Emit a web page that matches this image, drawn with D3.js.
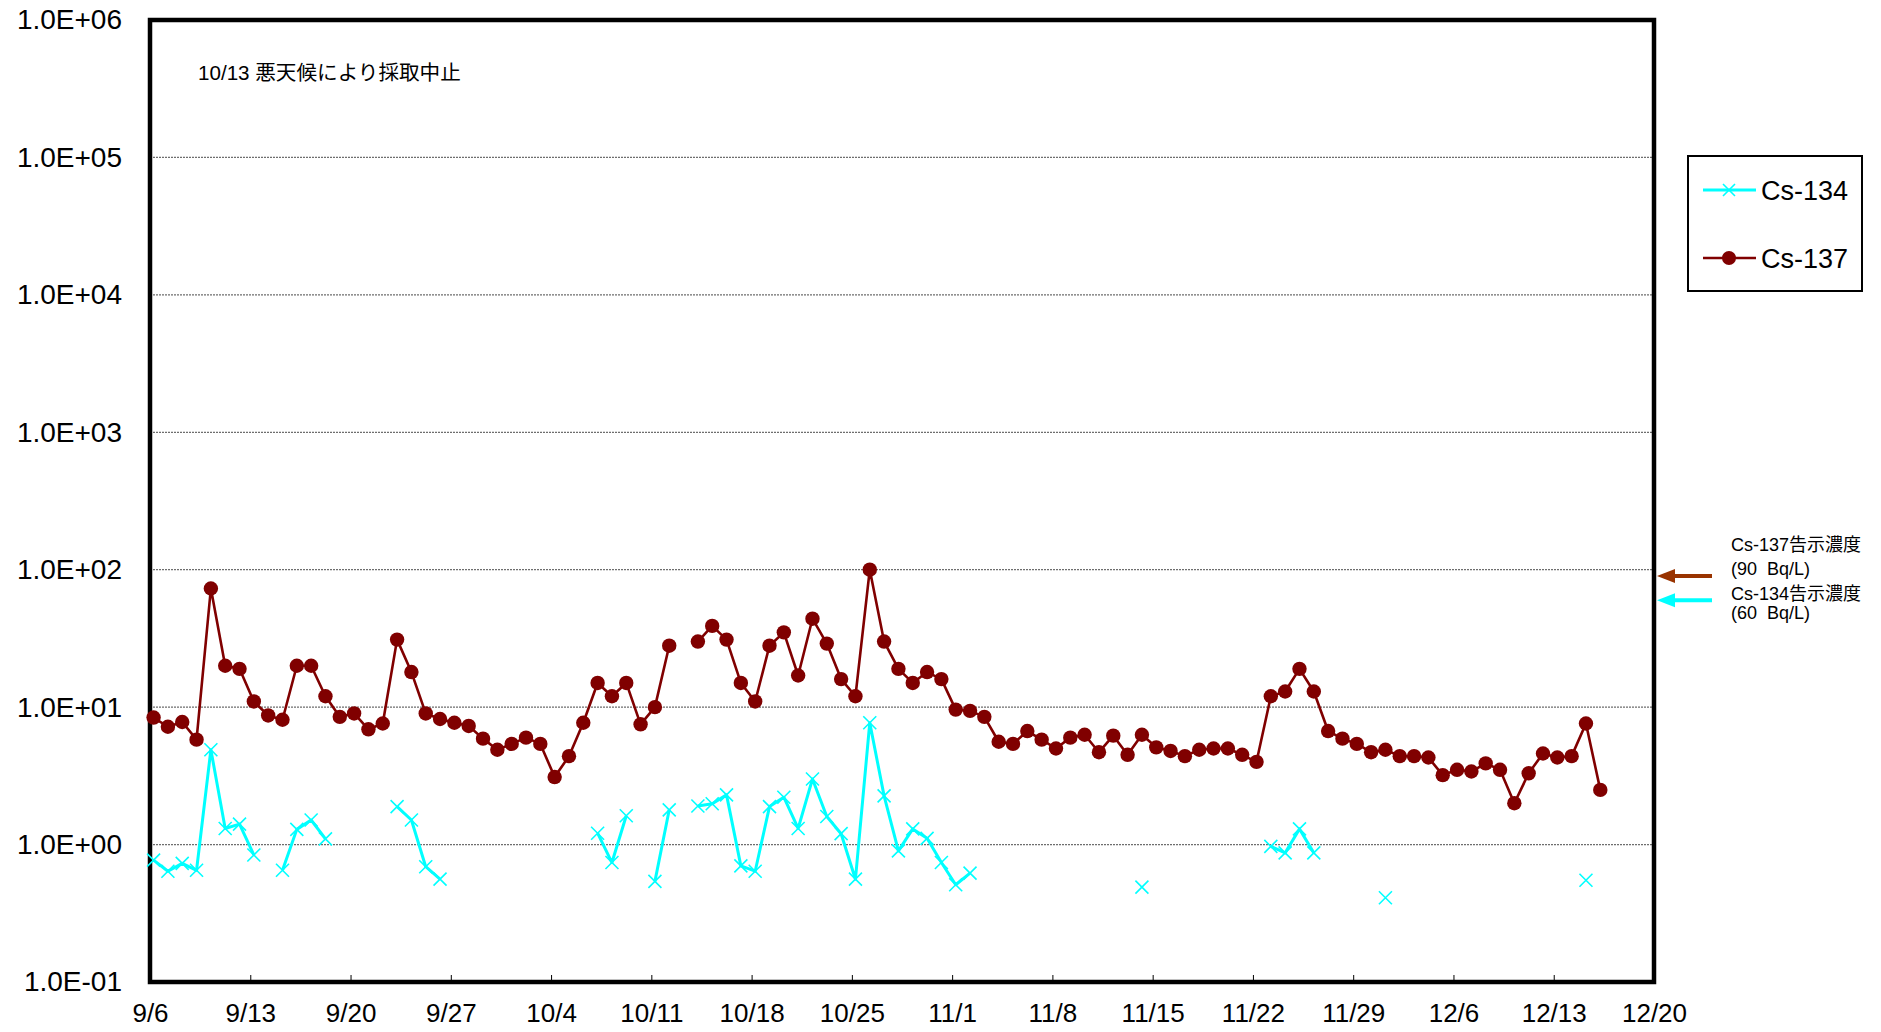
<!DOCTYPE html>
<html>
<head>
<meta charset="utf-8">
<script src="https://cdn.jsdelivr.net/npm/d3@7"></script>
<style>
  html, body { margin: 0; padding: 0; background: #ffffff; }
</style>
</head>
<body>
<div id="chart"></div>
<script>
// sampling days (one per day, 9/6 - 12/16)
const dates = [
  "9/6","9/7","9/8","9/9","9/10","9/11","9/12","9/13","9/14","9/15","9/16","9/17","9/18","9/19","9/20",
  "9/21","9/22","9/23","9/24","9/25","9/26","9/27","9/28","9/29","9/30",
  "10/1","10/2","10/3","10/4","10/5","10/6","10/7","10/8","10/9","10/10","10/11","10/12","10/13","10/14","10/15",
  "10/16","10/17","10/18","10/19","10/20","10/21","10/22","10/23","10/24","10/25","10/26","10/27","10/28","10/29","10/30","10/31",
  "11/1","11/2","11/3","11/4","11/5","11/6","11/7","11/8","11/9","11/10","11/11","11/12","11/13","11/14","11/15",
  "11/16","11/17","11/18","11/19","11/20","11/21","11/22","11/23","11/24","11/25","11/26","11/27","11/28","11/29","11/30",
  "12/1","12/2","12/3","12/4","12/5","12/6","12/7","12/8","12/9","12/10","12/11","12/12","12/13","12/14","12/15","12/16"
];

// Bq/L, null = not detected / not sampled
const cs134 = [
  0.77, 0.64, 0.73, 0.65, 4.9, 1.31, 1.41, 0.84, null, 0.65, 1.29, 1.51, 1.1, null, null,
  null, null, 1.89, 1.51, 0.69, 0.56, null, null, null, null,
  null, null, null, null, null, null, 1.21, 0.74, 1.62, null, 0.54, 1.79, null, 1.91, 1.98,
  2.3, 0.70, 0.64, 1.89, 2.21, 1.31, 3.0, 1.6, 1.2, 0.56, 7.7, 2.26, 0.90, 1.3, 1.11, 0.74,
  0.51, 0.62, null, null, null, null, null, null, null, null, null, null, null, 0.49, null,
  null, null, null, null, null, null, null, 0.97, 0.87, 1.3, 0.87, null, null, null, null,
  0.41, null, null, null, null, null, null, null, null, null, null, null, null, null, 0.55, null
];

const cs137 = [
  8.4, 7.2, 7.8, 5.8, 73, 20, 19, 11, 8.7, 8.1, 20, 20, 12, 8.5, 9.0,
  6.9, 7.6, 31, 18, 9.0, 8.2, 7.7, 7.3, 5.9, 4.9,
  5.4, 6.0, 5.4, 3.1, 4.4, 7.7, 15, 12, 15, 7.5, 10, 28, null, 30, 39,
  31, 15, 11, 28, 35, 17, 44, 29, 16, 12, 100, 30, 19, 15, 18, 16,
  9.6, 9.4, 8.5, 5.6, 5.4, 6.7, 5.8, 5.0, 6.0, 6.3, 4.7, 6.2, 4.5, 6.3, 5.1,
  4.8, 4.4, 4.9, 5.0, 5.0, 4.5, 4.0, 12, 13, 19, 13, 6.7, 5.9, 5.4, 4.7,
  4.9, 4.4, 4.4, 4.3, 3.2, 3.5, 3.4, 3.9, 3.5, 2.0, 3.3, 4.6, 4.3, 4.4, 7.6, 2.5
];

const xTickLabels = ["9/6","9/13","9/20","9/27","10/4","10/11","10/18","10/25","11/1","11/8","11/15","11/22","11/29","12/6","12/13","12/20"];
const yTickValues = [0.1, 1, 10, 100, 1000, 10000, 100000, 1000000];
const yTickLabels = ["1.0E-01","1.0E+00","1.0E+01","1.0E+02","1.0E+03","1.0E+04","1.0E+05","1.0E+06"];
const seriesNames = ["Cs-134", "Cs-137"];
const noteText = "10/13 悪天候により採取中止";
const limitValues = [90, 60];
const limitLabels = [["Cs-137告示濃度", "(90\u00a0\u00a0Bq/L)"], ["Cs-134告示濃度", "(60\u00a0\u00a0Bq/L)"]];

class Chart {
    constructor() {
        const attrs = {
            container: "#chart",
            svgWidth: 1881,
            svgHeight: 1032,
            marginTop: 20,
            marginLeft: 150,
            chartWidth: 1504,
            chartHeight: 962,
            defaultFont: "'Liberation Sans', Arial, 'Noto Sans CJK JP', sans-serif",
            color134: "#00ffff",
            color137: "#800000",
            arrowColor137: "#993300",
            year: 2011
        };
        this.getState = () => attrs;
        this.setState = (d) => Object.assign(attrs, d);
    }

    render() {
        this.calculateProperties();
        this.drawSvgAndWrappers();
        this.drawGrid();
        this.drawAxes();
        this.drawSeries();
        this.drawLegend();
        this.drawNotes();
        return this;
    }

    calculateProperties() {
        const { year, marginLeft, marginTop, chartWidth, chartHeight } = this.getState();
        const parse = d3.timeParse("%Y/%m/%d");
        const toDate = (s) => parse(year + "/" + s);

        const x = d3.scaleTime()
            .domain([toDate(xTickLabels[0]), toDate(xTickLabels[xTickLabels.length - 1])])
            .range([marginLeft, marginLeft + chartWidth]);
        const y = d3.scaleLog()
            .domain([0.1, 1e6])
            .range([marginTop + chartHeight, marginTop]);

        // samples are taken in the morning, so points sit a little after the day line
        const rows = dates.map((d, i) => ({
            date: d3.timeHour.offset(toDate(d), 6),
            cs134: cs134[i],
            cs137: cs137[i]
        }));

        this.setState({ x, y, rows, toDate });
    }

    drawSvgAndWrappers() {
        const { container, svgWidth, svgHeight, defaultFont } = this.getState();
        const svg = d3.select(container).append("svg")
            .attr("width", svgWidth)
            .attr("height", svgHeight)
            .style("background-color", "#ffffff")
            .attr("font-family", defaultFont);
        this.setState({ svg });
    }

    drawGrid() {
        const { svg, y, marginLeft, chartWidth } = this.getState();
        svg.append("g").attr("class", "grid")
            .selectAll("line")
            .data(yTickValues.slice(1, -1))
            .join("line")
            .attr("x1", marginLeft)
            .attr("x2", marginLeft + chartWidth)
            .attr("y1", d => y(d))
            .attr("y2", d => y(d))
            .attr("stroke", "#6e6e6e")
            .attr("stroke-width", 1.2)
            .attr("stroke-dasharray", "2,1");
    }

    drawAxes() {
        const { svg, x, y, toDate, marginLeft, marginTop, chartWidth, chartHeight } = this.getState();

        const yAxis = svg.append("g")
            .attr("transform", `translate(${marginLeft},0)`)
            .call(d3.axisLeft(y)
                .tickValues(yTickValues)
                .tickSize(0)
                .tickPadding(28)
                .tickFormat((d, i) => yTickLabels[i]));
        yAxis.select(".domain").remove();
        yAxis.selectAll("text").attr("font-size", 28).attr("fill", "#000").attr("font-family", null);

        const xAxis = svg.append("g")
            .attr("transform", `translate(0,${marginTop + chartHeight})`)
            .call(d3.axisBottom(x)
                .tickValues(xTickLabels.map(toDate))
                .tickSize(-7)
                .tickPadding(22)
                .tickFormat((d, i) => xTickLabels[i]));
        xAxis.select(".domain").remove();
        xAxis.selectAll("line").attr("stroke", "#000").attr("stroke-width", 1);
        xAxis.selectAll("text").attr("font-size", 26).attr("fill", "#000").attr("font-family", null);

        // plot frame
        svg.append("rect")
            .attr("x", marginLeft)
            .attr("y", marginTop)
            .attr("width", chartWidth)
            .attr("height", chartHeight)
            .attr("fill", "none")
            .attr("stroke", "#000")
            .attr("stroke-width", 4.5);
    }

    drawSeries() {
        const { svg, x, y, rows, color134, color137 } = this.getState();

        const line = (key) => d3.line()
            .defined(d => d[key] != null)
            .x(d => x(d.date))
            .y(d => y(d[key]));

        // Cs-134
        svg.append("path")
            .datum(rows)
            .attr("d", line("cs134"))
            .attr("fill", "none")
            .attr("stroke", color134)
            .attr("stroke-width", 3)
            .attr("stroke-linejoin", "round");
        const s = 6.5;
        svg.append("g")
            .selectAll("path")
            .data(rows.filter(d => d.cs134 != null))
            .join("path")
            .attr("transform", d => `translate(${x(d.date)},${y(d.cs134)})`)
            .attr("d", `M${-s},${-s}L${s},${s}M${-s},${s}L${s},${-s}`)
            .attr("stroke", color134)
            .attr("stroke-width", 1.6)
            .attr("fill", "none");

        // Cs-137
        svg.append("path")
            .datum(rows)
            .attr("d", line("cs137"))
            .attr("fill", "none")
            .attr("stroke", color137)
            .attr("stroke-width", 2.6)
            .attr("stroke-linejoin", "round");
        svg.append("g")
            .selectAll("circle")
            .data(rows.filter(d => d.cs137 != null))
            .join("circle")
            .attr("cx", d => x(d.date))
            .attr("cy", d => y(d.cs137))
            .attr("r", 7.2)
            .attr("fill", color137);
    }

    drawLegend() {
        const { svg, color134, color137 } = this.getState();
        const g = svg.append("g").attr("transform", "translate(1688,156)");
        g.append("rect")
            .attr("width", 174)
            .attr("height", 135)
            .attr("fill", "#fff")
            .attr("stroke", "#000")
            .attr("stroke-width", 2);

        const items = g.selectAll("g.item")
            .data(seriesNames)
            .join("g")
            .attr("class", "item")
            .attr("transform", (d, i) => `translate(15,${34 + i * 68})`);
        items.append("line")
            .attr("x1", 0).attr("x2", 53)
            .attr("stroke", (d, i) => i === 0 ? color134 : color137)
            .attr("stroke-width", (d, i) => i === 0 ? 3 : 2.6);
        items.filter((d, i) => i === 0).append("path")
            .attr("d", "M20,-6L32,6M20,6L32,-6")
            .attr("stroke", color134)
            .attr("stroke-width", 1.6);
        items.filter((d, i) => i === 1).append("circle")
            .attr("cx", 26).attr("r", 7)
            .attr("fill", color137);
        items.append("text")
            .attr("x", 58)
            .attr("dy", "0.36em")
            .attr("font-size", 27)
            .text(d => d);
    }

    drawNotes() {
        const { svg, y, color134, arrowColor137 } = this.getState();

        svg.append("text")
            .attr("x", 198)
            .attr("y", 80)
            .attr("font-size", 20.6)
            .text(noteText);

        // notification limits, arrows pointing at the axis
        const colors = [arrowColor137, color134];
        limitValues.forEach((v, i) => {
            const yy = y(v);
            const g = svg.append("g");
            g.append("line")
                .attr("x1", 1712).attr("x2", 1672)
                .attr("y1", yy).attr("y2", yy)
                .attr("stroke", colors[i])
                .attr("stroke-width", 4);
            g.append("path")
                .attr("d", `M1657,${yy}L1675,${yy - 7}L1675,${yy + 7}Z`)
                .attr("fill", colors[i]);
        });

        const labelY = [[545, 569], [594, 613]];
        limitLabels.forEach((lines, i) => {
            lines.forEach((t, j) => {
                svg.append("text")
                    .attr("x", 1731)
                    .attr("y", labelY[i][j])
                    .attr("dy", "0.36em")
                    .attr("font-size", 18)
                    .text(t);
            });
        });
    }
}

new Chart().render();
</script>
</body>
</html>
